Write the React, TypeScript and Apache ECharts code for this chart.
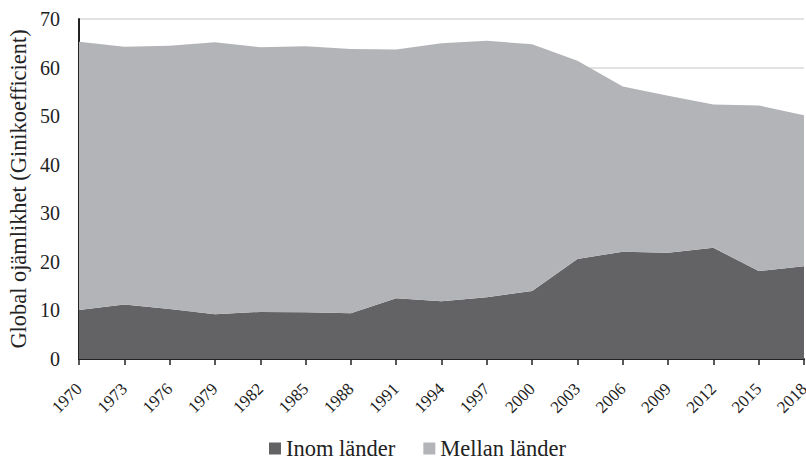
import React, { useEffect, useRef } from "react";
import * as echarts from "echarts";

const years = ["1970","1973","1976","1979","1982","1985","1988","1991","1994","1997","2000","2003","2006","2009","2012","2015","2018"];
const inomLander = [10.1, 11.2, 10.3, 9.2, 9.7, 9.6, 9.4, 12.5, 11.9, 12.7, 14.0, 20.6, 22.1, 21.9, 22.9, 18.1, 19.1];
const totalGini = [65.3, 64.3, 64.5, 65.2, 64.2, 64.4, 63.8, 63.7, 65.0, 65.5, 64.8, 61.4, 56.1, 54.2, 52.4, 52.2, 50.2];
const mellanLander = totalGini.map((t, i) => Math.round((t - inomLander[i]) * 10) / 10);

const FONT = "'Liberation Serif', 'DejaVu Serif', serif";

export default function App() {
  const ref = useRef<HTMLDivElement>(null);
  useEffect(() => {
    if (!ref.current) return;
    const chart = echarts.init(ref.current, undefined, { renderer: "svg" });
    chart.setOption({
      animation: false,
      textStyle: { fontFamily: FONT },
      grid: { left: 79, right: 2, top: 19, bottom: 102, containLabel: false, outerBoundsMode: "none" },
      legend: {
        top: 437,
        left: 269,
        padding: 0,
        itemWidth: 12,
        itemHeight: 12,
        itemGap: 28,
        icon: "rect",
        textStyle: { fontFamily: FONT, fontSize: 22.5, color: "#222" },
        data: ["Inom länder", "Mellan länder"],
      },
      xAxis: {
        type: "category",
        data: years,
        boundaryGap: false,
        axisLine: { lineStyle: { color: "#222", width: 2 } },
        axisTick: { show: true, alignWithLabel: true, length: 6, lineStyle: { color: "#222", width: 1.5 } },
        axisLabel: { rotate: 45, fontFamily: FONT, fontSize: 17, color: "#222", margin: 27, interval: 0 },
      },
      yAxis: {
        type: "value",
        min: 0,
        max: 70,
        interval: 10,
        name: "Global ojämlikhet (Ginikoefficient)",
        nameLocation: "middle",
        nameGap: 44,
        nameTextStyle: { fontFamily: FONT, fontSize: 22.4, color: "#222" },
        axisLine: { show: true, lineStyle: { color: "#222", width: 2 } },
        axisTick: { show: false },
        axisLabel: { fontFamily: FONT, fontSize: 20, color: "#222", margin: 19 },
        splitLine: { show: true, lineStyle: { color: "#d9d9d9", width: 1.5 } },
      },
      series: [
        {
          name: "Inom länder",
          type: "line",
          stack: "total",
          data: inomLander,
          showSymbol: false,
          symbol: "none",
          lineStyle: { width: 0 },
          itemStyle: { color: "#636366" },
          areaStyle: { color: "#636366", opacity: 1 },
        },
        {
          name: "Mellan länder",
          type: "line",
          stack: "total",
          data: mellanLander,
          showSymbol: false,
          symbol: "none",
          lineStyle: { width: 0 },
          itemStyle: { color: "#b3b4b7" },
          areaStyle: { color: "#b3b4b7", opacity: 1 },
        },
      ],
    });
    return () => chart.dispose();
  }, []);
  return <div ref={ref} style={{ width: 806, height: 461, position: "absolute", left: 0, top: 0 }} />;
}
